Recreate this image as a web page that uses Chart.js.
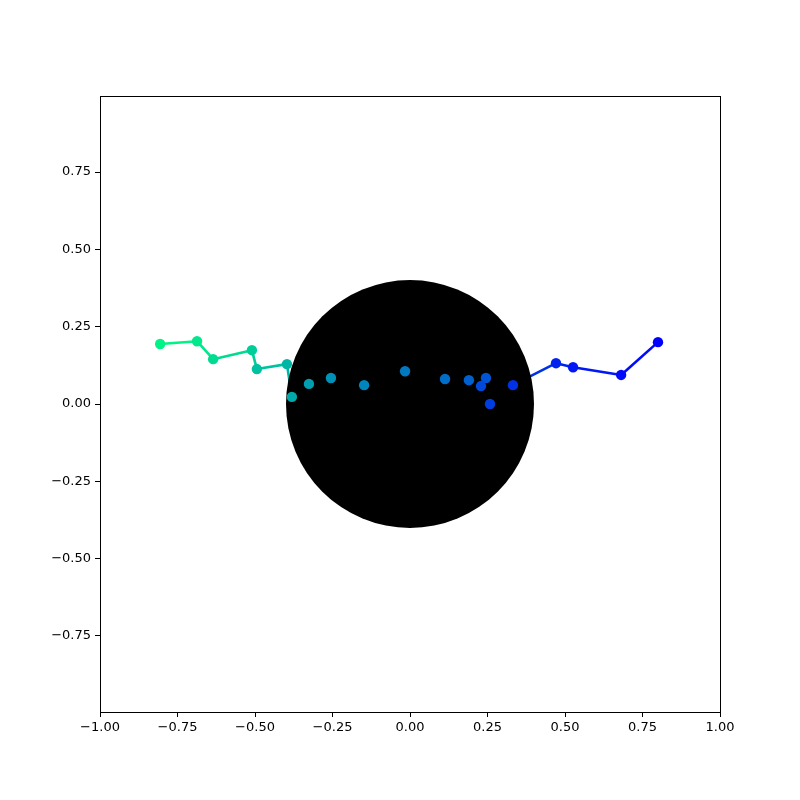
<!DOCTYPE html>
<html>
<head>
<meta charset="utf-8">
<script src="https://cdn.jsdelivr.net/npm/chart.js@4/dist/chart.umd.min.js"></script>
<style>
html,body{margin:0;padding:0;background:#fff;}
#wrap{width:800px;height:800px;}
</style>
</head>
<body>
<div id="wrap"><canvas id="c" width="800" height="800"></canvas></div>
<script>
// Path points, left (green) to right (blue)
const pathX = [-0.806, -0.687, -0.635, -0.510, -0.494, -0.397, -0.381, -0.326, -0.255, -0.148, -0.016, 0.113, 0.190, 0.245, 0.229, 0.258, 0.332, 0.471, 0.526, 0.681, 0.800];
const pathY = [0.194, 0.203, 0.145, 0.174, 0.113, 0.129, 0.023, 0.065, 0.084, 0.061, 0.106, 0.081, 0.077, 0.084, 0.058, 0.000, 0.061, 0.132, 0.119, 0.094, 0.200];
// Obstacle circle
const circleCenter = [0, 0];
const circleRadius = 0.4;
// Axis ticks
const xTicks = [-1.00, -0.75, -0.50, -0.25, 0.00, 0.25, 0.50, 0.75, 1.00];
const yTicks = [-0.75, -0.50, -0.25, 0.00, 0.25, 0.50, 0.75];
const xRange = [-1, 1];
const yRange = [-0.996, 0.996];

const n = pathX.length;
function winter(t) {
  const g = Math.round(255 * t);
  const b = Math.round(255 * (1 - 0.5 * t));
  return `rgb(0,${g},${b})`;
}
const colors = pathX.map((_, i) => winter((n - 1 - i) / n));
const pts = pathX.map((x, i) => ({x: x, y: pathY[i]}));

const fmt = v => {
  const s = Number(v).toFixed(2);
  return s.replace('-', '\u2212');
};

const circlePlugin = {
  id: 'circle',
  afterDatasetDraw(chart, args) {
    if (args.index !== 1) return;
    const xs = chart.scales.x, ys = chart.scales.y;
    const cx = xs.getPixelForValue(circleCenter[0]);
    const cy = ys.getPixelForValue(circleCenter[1]);
    const r = xs.getPixelForValue(circleCenter[0] + circleRadius) - cx;
    const ctx = chart.ctx;
    ctx.save();
    ctx.beginPath();
    ctx.arc(cx, cy, r, 0, Math.PI * 2);
    ctx.fillStyle = '#000';
    ctx.fill();
    ctx.restore();
  },
  afterDraw(chart) {
    const a = chart.chartArea, ctx = chart.ctx;
    ctx.save();
    ctx.strokeStyle = '#000';
    ctx.lineWidth = 1;
    ctx.strokeRect(Math.round(a.left) + 0.5, Math.round(a.top) + 0.5, Math.round(a.right - a.left), Math.round(a.bottom - a.top));
    ctx.restore();
  }
};

new Chart(document.getElementById('c'), {
  type: 'scatter',
  data: {
    datasets: [
      {
        data: pts,
        showLine: false,
        pointRadius: 5.2,
        pointHoverRadius: 5.2,
        pointBackgroundColor: colors,
        pointBorderColor: colors,
        pointBorderWidth: 0
      },
      {
        data: pts,
        showLine: true,
        pointRadius: 0,
        borderWidth: 2.6,
        borderColor: colors[0],
        segment: {
          borderColor: ctx => colors[ctx.p0DataIndex]
        }
      }
    ]
  },
  options: {
    responsive: false,
    animation: false,
    devicePixelRatio: 1,
    plugins: { legend: {display: false}, tooltip: {enabled: false} },
    layout: { padding: {left: 0, top: 96, right: 80, bottom: 0} },
    scales: {
      x: {
        type: 'linear',
        min: xRange[0], max: xRange[1],
        afterBuildTicks: s => { s.ticks = xTicks.map(v => ({value: v})); },
        afterFit: s => { s.height = 88; },
        grid: { display: true, drawOnChartArea: false, drawTicks: true, tickLength: 5, color: '#000', tickWidth: 1 },
        border: { display: true, color: '#000', width: 1 },
        ticks: { color: '#000', font: {family: 'DejaVu Sans', size: 13}, padding: 3, maxRotation: 0, autoSkip: false, callback: v => fmt(v) }
      },
      y: {
        type: 'linear',
        min: yRange[0], max: yRange[1],
        afterBuildTicks: s => { s.ticks = yTicks.map(v => ({value: v})); },
        afterFit: s => { s.width = 100; },
        grid: { display: true, drawOnChartArea: false, drawTicks: true, tickLength: 5, color: '#000', tickWidth: 1 },
        border: { display: true, color: '#000', width: 1 },
        ticks: { color: '#000', font: {family: 'DejaVu Sans', size: 13}, padding: 4, autoSkip: false, callback: v => fmt(v) }
      }
    }
  },
  plugins: [circlePlugin]
});
</script>
</body>
</html>
